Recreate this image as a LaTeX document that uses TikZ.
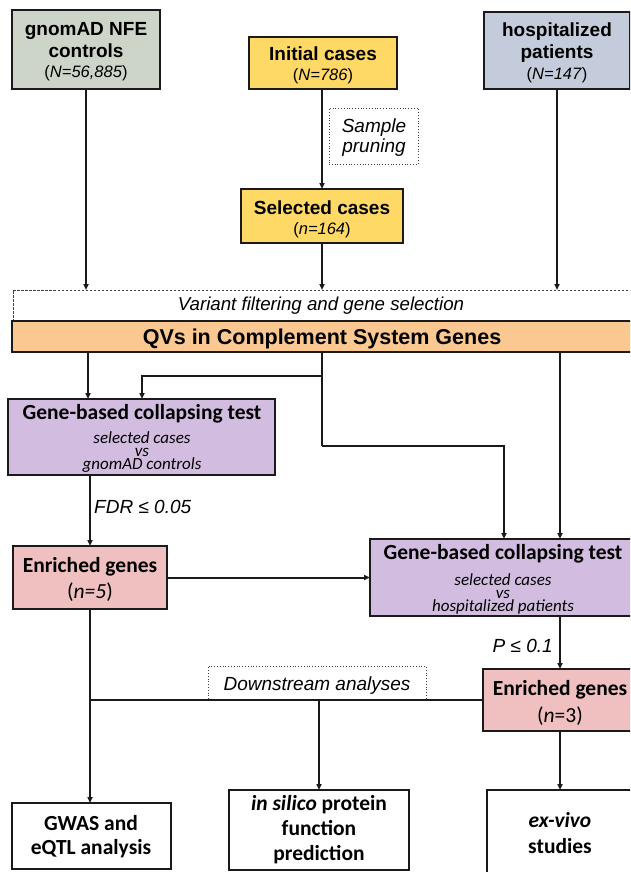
\documentclass[tikz,border=0pt]{standalone}
\usepackage{fontspec}
\setmainfont{Carlito}
\newfontfamily\arial{Liberation Sans}
\usetikzlibrary{arrows.meta}
\definecolor{cgreen}{HTML}{CDD5C9}
\definecolor{cgold}{HTML}{FFD966}
\definecolor{cblue}{HTML}{C4CBDA}
\definecolor{corange}{HTML}{FAC890}
\definecolor{cpurple}{HTML}{D2BDE0}
\definecolor{cpink}{HTML}{F0BFBF}
\definecolor{cline}{HTML}{1A1A1A}
\begin{document}
\begin{tikzpicture}[x=1pt,y=-1pt,
  box/.style={draw=cline, line width=2.5pt, inner sep=0, outer sep=0, anchor=north west},
  dotbox/.style={draw=black!75, line width=0.8pt, dotted, inner sep=0, outer sep=0, anchor=north west},
  dashbox/.style={draw=black!75, line width=0.8pt, dash pattern=on 2.5pt off 1.5pt, inner sep=0, outer sep=0, anchor=north west},
  conn/.style={draw=cline, line width=2pt},
  arr/.style={conn, -{Triangle[length=6pt,width=5pt]}},
  txt/.style={inner sep=0, anchor=base},
  tA/.style={txt, font=\arial\bfseries\fontsize{19}{21}\selectfont},
  tAn/.style={txt, font=\arial\fontsize{16.5}{19}\selectfont},
  tAi/.style={txt, font=\arial\itshape\fontsize{19}{21}\selectfont},
  tQ/.style={txt, font=\arial\bfseries\fontsize{21.5}{24}\selectfont},
  tC/.style={txt, font=\bfseries\fontsize{21.5}{25}\selectfont},
  tCn/.style={txt, font=\fontsize{21.5}{25}\selectfont},
  tCs/.style={txt, font=\itshape\fontsize{17}{12}\selectfont}
]
\useasboundingbox (0,0) rectangle (630,872);
\clip (0,0) rectangle (630,872);
\fill[white] (0,0) rectangle (630,872);

% top boxes
\node[box, fill=cgreen, minimum width=148, minimum height=79] (gnomad) at (12,10) {};
\node[tA] (gnomad1) at (86,36) {gnomAD NFE};
\node[tA] (gnomad2) at (86,58) {controls};
\node[tAn] (gnomad3) at (86,78) {(\textit{N=56,885})};

\node[box, fill=cgold, minimum width=148, minimum height=52] (initial) at (249,37) {};
\node[tA] (initial1) at (323,61) {Initial cases};
\node[tAn] (initial2) at (323,81) {(\textit{N=786})};

\node[box, fill=cblue, minimum width=146, minimum height=77] (hosp) at (484,12) {};
\node[tA] (hosp1) at (557,37) {hospitalized};
\node[tA] (hosp2) at (557,59) {patients};
\node[tAn] (hosp3) at (557,80) {(\textit{N=147})};

\node[dotbox, minimum width=89, minimum height=56] (prune) at (329,108) {};
\node[tAi] (prune1) at (374,132) {Sample};
\node[tAi] (prune2) at (374,153) {pruning};

\node[box, fill=cgold, minimum width=162, minimum height=54] (selected) at (241,189) {};
\node[tA] (selected1) at (322,214) {Selected cases};
\node[tAn] (selected2) at (322,234) {(\textit{n=164})};

% variant filtering and QV
\node[dashbox, minimum width=660, minimum height=31] (vf) at (13,290) {};
\node[tAi, font=\arial\itshape\fontsize{18.7}{21}\selectfont] (vf1) at (321,310) {Variant filtering and gene selection};
\node[box, fill=corange, minimum width=660, minimum height=31] (qv) at (12,321) {};
\node[tQ] (qv1) at (322,344) {QVs in Complement System Genes};

% collapsing test 1
\node[box, fill=cpurple, minimum width=267, minimum height=76] (ct1) at (8,399) {};
\node[tC] (ct1a) at (142,419) {Gene-based collapsing test};
\node[tCs] (ct1b) at (142,443) {selected cases};
\node[tCs] (ct1c) at (142,456) {vs};
\node[tCs] (ct1d) at (142,469) {gnomAD controls};

\node[tAi, anchor=base west] (fdr) at (94,513) {FDR ≤ 0.05};

% enriched 1
\node[box, fill=cpink, minimum width=154, minimum height=63] (en1) at (13,546) {};
\node[tC] (en1a) at (90,572) {Enriched genes};
\node[tCn] (en1b) at (90,598) {(\textit{n=5})};

% collapsing test 2
\node[box, fill=cpurple, minimum width=266, minimum height=77] (ct2) at (370,539) {};
\node[tC] (ct2a) at (503,559) {Gene-based collapsing test};
\node[tCs] (ct2b) at (503,585) {selected cases};
\node[tCs] (ct2c) at (503,598) {vs};
\node[tCs] (ct2d) at (503,611) {hospitalized patients};

\node[tAi, anchor=base east] (pval) at (553,652) {P ≤ 0.1};

% enriched 2
\node[box, fill=cpink, minimum width=154, minimum height=62] (en3) at (483,669) {};
\node[tC] (en3a) at (560,695) {Enriched genes};
\node[tCn] (en3b) at (560,722) {(\textit{n}=3)};

\node[dotbox, minimum width=218, minimum height=33] (down) at (208,666) {};
\node[tAi] (down1) at (317,690) {Downstream analyses};

% bottom boxes
\node[box, minimum width=159, minimum height=66] (gwas) at (12,803) {};
\node[tC] (gwas1) at (91,830) {GWAS and};
\node[tC] (gwas2) at (91,854) {eQTL analysis};

\node[box, minimum width=180, minimum height=80] (insilico) at (229,790) {};
\node[tC] (insilico1) at (319,810) {\textit{in silico} protein};
\node[tC] (insilico2) at (319,835) {function};
\node[tC] (insilico3) at (319,860) {prediction};

\node[box, minimum width=150, minimum height=120] (exvivo) at (487,790) {};
\node[tC] (exvivo1) at (560,827) {\textit{ex-vivo}};
\node[tC] (exvivo2) at (560,853) {studies};

% connectors
\draw[arr] (gnomad.south) -- (gnomad.south |- vf.north);
\draw[arr] (initial.south -| selected.north) -- (selected.north);
\draw[arr] (selected.south) -- (selected.south |- vf.north);
\draw[arr] (hosp.south) -- (hosp.south |- vf.north);

\coordinate (c1) at (88,0);
\coordinate (b1) at (322,376);
\coordinate (b2) at (322,446);
\coordinate (t1) at (142,0);
\coordinate (t2) at (504,0);
\coordinate (t3) at (560,0);
\coordinate (t4) at (90,0);
\draw[arr] (c1 |- qv.south) -- (c1 |- ct1.north);
\draw[conn] (b1 |- qv.south) -- (b2);
\draw[arr] (b1) -| (t1 |- ct1.north);
\draw[arr] (b2) -| (t2 |- ct2.north);
\draw[arr] (t3 |- qv.south) -- (t3 |- ct2.north);

\draw[arr] (t4 |- ct1.south) -- (t4 |- en1.north);
\draw[arr] (en1.east) -- (en1.east -| ct2.west);
\draw[arr] (t3 |- ct2.south) -- (t3 |- en3.north);

\draw[arr] (en1.south) -- (en1.south |- gwas.north);
\draw[conn] (en3.west) -- (en3.west -| en1.south);
\draw[arr] (insilico.north |- en3.west) -- (insilico.north);
\draw[arr] (t3 |- en3.south) -- (t3 |- exvivo.north);
\end{tikzpicture}
\end{document}
